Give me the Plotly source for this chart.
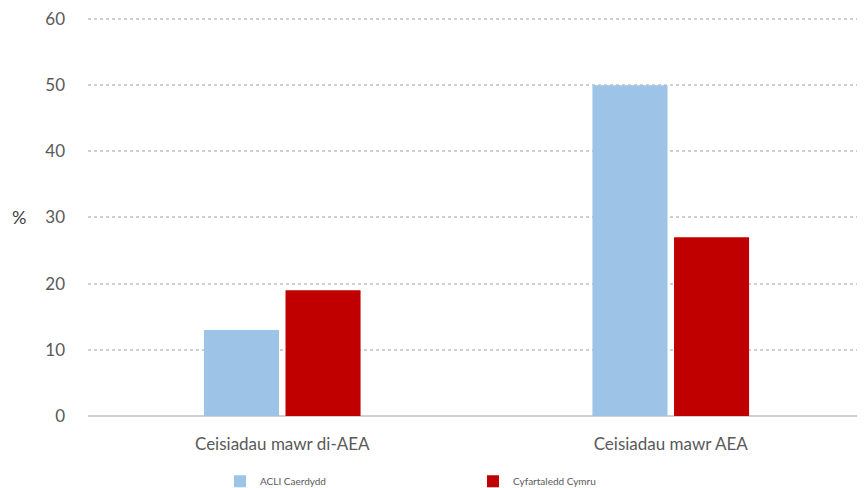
import plotly.graph_objects as go

categories = ["Ceisiadau mawr di-AEA", "Ceisiadau mawr AEA"]
acli_caerdydd = [13, 50]
cyfartaledd_cymru = [19, 27]
series_names = ["ACLI Caerdydd", "Cyfartaledd Cymru"]
y_ticks = [0, 10, 20, 30, 40, 50, 60]

FONT = "Lato, 'Open Sans', sans-serif"

fig = go.Figure()
fig.add_trace(go.Bar(x=categories, y=acli_caerdydd, name=series_names[0], showlegend=True,
                     marker=dict(color="#9dc3e6", line=dict(width=0)), legend="legend"))
fig.add_trace(go.Bar(x=categories, y=cyfartaledd_cymru, name=series_names[1], showlegend=True,
                     marker=dict(color="#c00000", line=dict(width=0)), legend="legend2"))

legend_common = dict(orientation="h", yanchor="middle", y=-0.163, xanchor="left",
                     font=dict(family=FONT, size=10, color="#595959"),
                     bgcolor="rgba(0,0,0,0)", itemwidth=30)

fig.update_layout(
    width=857, height=480,
    showlegend=True,
    margin=dict(l=80, r=0, t=8, b=72, autoexpand=False),
    paper_bgcolor="white", plot_bgcolor="white",
    barmode="group", bargap=0.58, bargroupgap=0.08,
    font=dict(family=FONT, color="#595959"),
    legend=dict(**legend_common, x=132 / 777),
    legend2=dict(**legend_common, x=385 / 777),
    xaxis=dict(showline=False, ticks="", tickfont=dict(size=17, color="#595959"),
               showgrid=False, ticklabelstandoff=16, automargin=False),
    yaxis=dict(range=[0, 60.45], tickvals=y_ticks, showgrid=True, gridcolor="#d0d0d0",
               griddash="dot", gridwidth=1.5, zeroline=True, zerolinecolor="#d0d0d0",
               zerolinewidth=1.5, ticks="", ticklabelstandoff=22, automargin=False,
               ticklabeloverflow="allow",
               tickfont=dict(size=17, color="#595959")),
    annotations=[dict(text="%", xref="paper", yref="y", x=-80 / 777, xanchor="left",
                      y=30, yanchor="middle", showarrow=False, xshift=2,
                      font=dict(family=FONT, size=18, color="#404040"))],
)

fig.write_html("out.html")
